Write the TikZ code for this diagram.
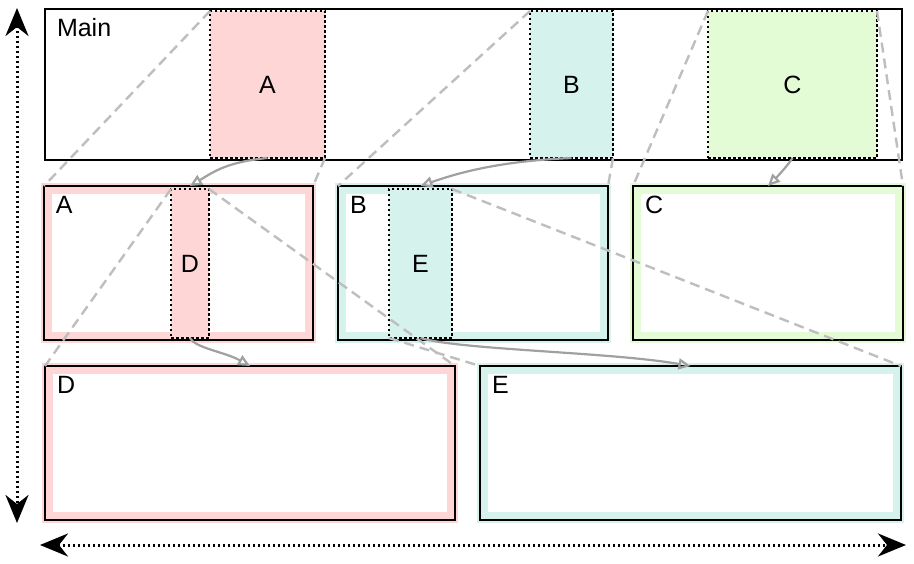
\documentclass[tikz,border=0pt]{standalone}
\usepackage{fontspec}
\setmainfont{Liberation Sans}
\usetikzlibrary{arrows.meta,calc}
\definecolor{pinkA}{RGB}{255,214,214}
\definecolor{tealB}{RGB}{214,242,236}
\definecolor{greenC}{RGB}{228,252,214}
\definecolor{dashgray}{RGB}{190,190,190}
\definecolor{arrowgray}{RGB}{160,160,160}
\begin{document}
\begin{tikzpicture}[x=1pt,y=-1pt,
  txt/.style={font=\fontsize{25pt}{29pt}\selectfont},
  mainbox/.style={draw=black, line width=2.5pt, inner sep=0pt, outer sep=0pt, anchor=north west, fill=white},
  subbox/.style={mainbox, fill=#1, preaction={draw=#1, line width=5.5pt},
     path picture={\fill[white] ($(path picture bounding box.north west)+(8pt,-8pt)$) rectangle ($(path picture bounding box.south east)+(-8pt,8pt)$);}},
  region/.style={fill=#1, draw=black, line width=2.5pt, dash pattern=on 2.5pt off 2.5pt, inner sep=0pt, outer sep=0pt, anchor=north west, txt},
  boxtitle/.style={anchor=north west, inner sep=0pt, outer sep=0pt, txt},
  zoomline/.style={draw=dashgray, line width=2.4pt, dash pattern=on 10pt off 6pt},
  garrow/.style={draw=arrowgray, line width=2.2pt, -{Triangle[open, length=12pt, width=11pt]}},
  axis/.style={line width=3pt, dash pattern=on 2.5pt off 2.5pt, {Stealth[length=28pt,width=23pt,inset=9pt]}-{Stealth[length=28pt,width=23pt,inset=9pt]}}
]
\useasboundingbox (0,0) rectangle (914,564);
% main
\node[mainbox, minimum width=857pt, minimum height=151pt] (main) at (45,9) {};
\node[boxtitle] (tMain) at ($(main.north west)+(12pt,-9pt)$) {Main};
\node[region=pinkA, minimum width=115pt, minimum height=147pt] (rA) at (210,11) {A};
\node[region=tealB, minimum width=83pt, minimum height=147pt] (rB) at (530,11) {B};
\node[region=greenC, minimum width=169pt, minimum height=147pt] (rC) at (708,11) {C};
% second row
\node[subbox=pinkA, minimum width=269pt, minimum height=154pt] (A) at (44,186) {};
\node[subbox=tealB, minimum width=270pt, minimum height=154pt] (B) at (338,186) {};
\node[subbox=greenC, minimum width=270pt, minimum height=154pt] (C) at (633,186) {};
\node[boxtitle] (tA) at ($(A.north west)+(12pt,-10pt)$) {A};
\node[boxtitle] (tB) at ($(B.north west)+(12pt,-10pt)$) {B};
\node[boxtitle] (tC) at ($(C.north west)+(12pt,-10pt)$) {C};
\node[region=pinkA, minimum width=38pt, minimum height=149pt] (rD) at (171,189) {D};
\node[region=tealB, minimum width=63pt, minimum height=149pt] (rE) at (389,189) {E};
% third row
\node[subbox=pinkA, minimum width=410pt, minimum height=154pt] (D) at (45,366) {};
\node[subbox=tealB, minimum width=421pt, minimum height=154pt] (E) at (480,366) {};
\node[boxtitle] (tD) at ($(D.north west)+(12pt,-10pt)$) {D};
\node[boxtitle] (tE) at ($(E.north west)+(12pt,-10pt)$) {E};
% zoom lines
\draw[zoomline] (rA.north west) -- (A.north west);
\draw[zoomline] (rA.south east) -- (A.north east);
\draw[zoomline] (rB.north west) -- (B.north west);
\draw[zoomline] (rB.south east) -- (B.north east);
\draw[zoomline] (rC.north west) -- (C.north west);
\draw[zoomline] (rC.north east) -- (C.north east);
\draw[zoomline] (rD.north west) -- (D.north west);
\draw[zoomline] (rD.north east) -- (D.north east);
\draw[zoomline] (rE.south west) -- (E.north west);
\draw[zoomline] (rE.north east) -- (E.north east);
% arrows
\coordinate (aA) at (rD.north |- A.north);
\coordinate (aB) at (rE.north |- B.north);
\draw[garrow] (rA.south) .. controls +(-40,4) and +(25,-15) .. (aA);
\draw[garrow] (rB.south) .. controls +(-70,3) and +(40,-14) .. (aB);
\draw[garrow] (rC.south) .. controls +(-5,8) and +(8,-8) .. (C.north);
\draw[garrow] (rD.south) .. controls +(5,10) and +(-25,-14) .. (D.north);
\draw[garrow] (rE.south) .. controls +(40,12) and +(-80,-14) .. (E.north);
% axes
\coordinate (vt) at (17,8);
\coordinate (vb) at (17,523);
\coordinate (hl) at (40,545);
\coordinate (hr) at (906,545);
\draw[axis] (vt) -- (vb);
\draw[axis] (hl) -- (hr);
\end{tikzpicture}
\end{document}
